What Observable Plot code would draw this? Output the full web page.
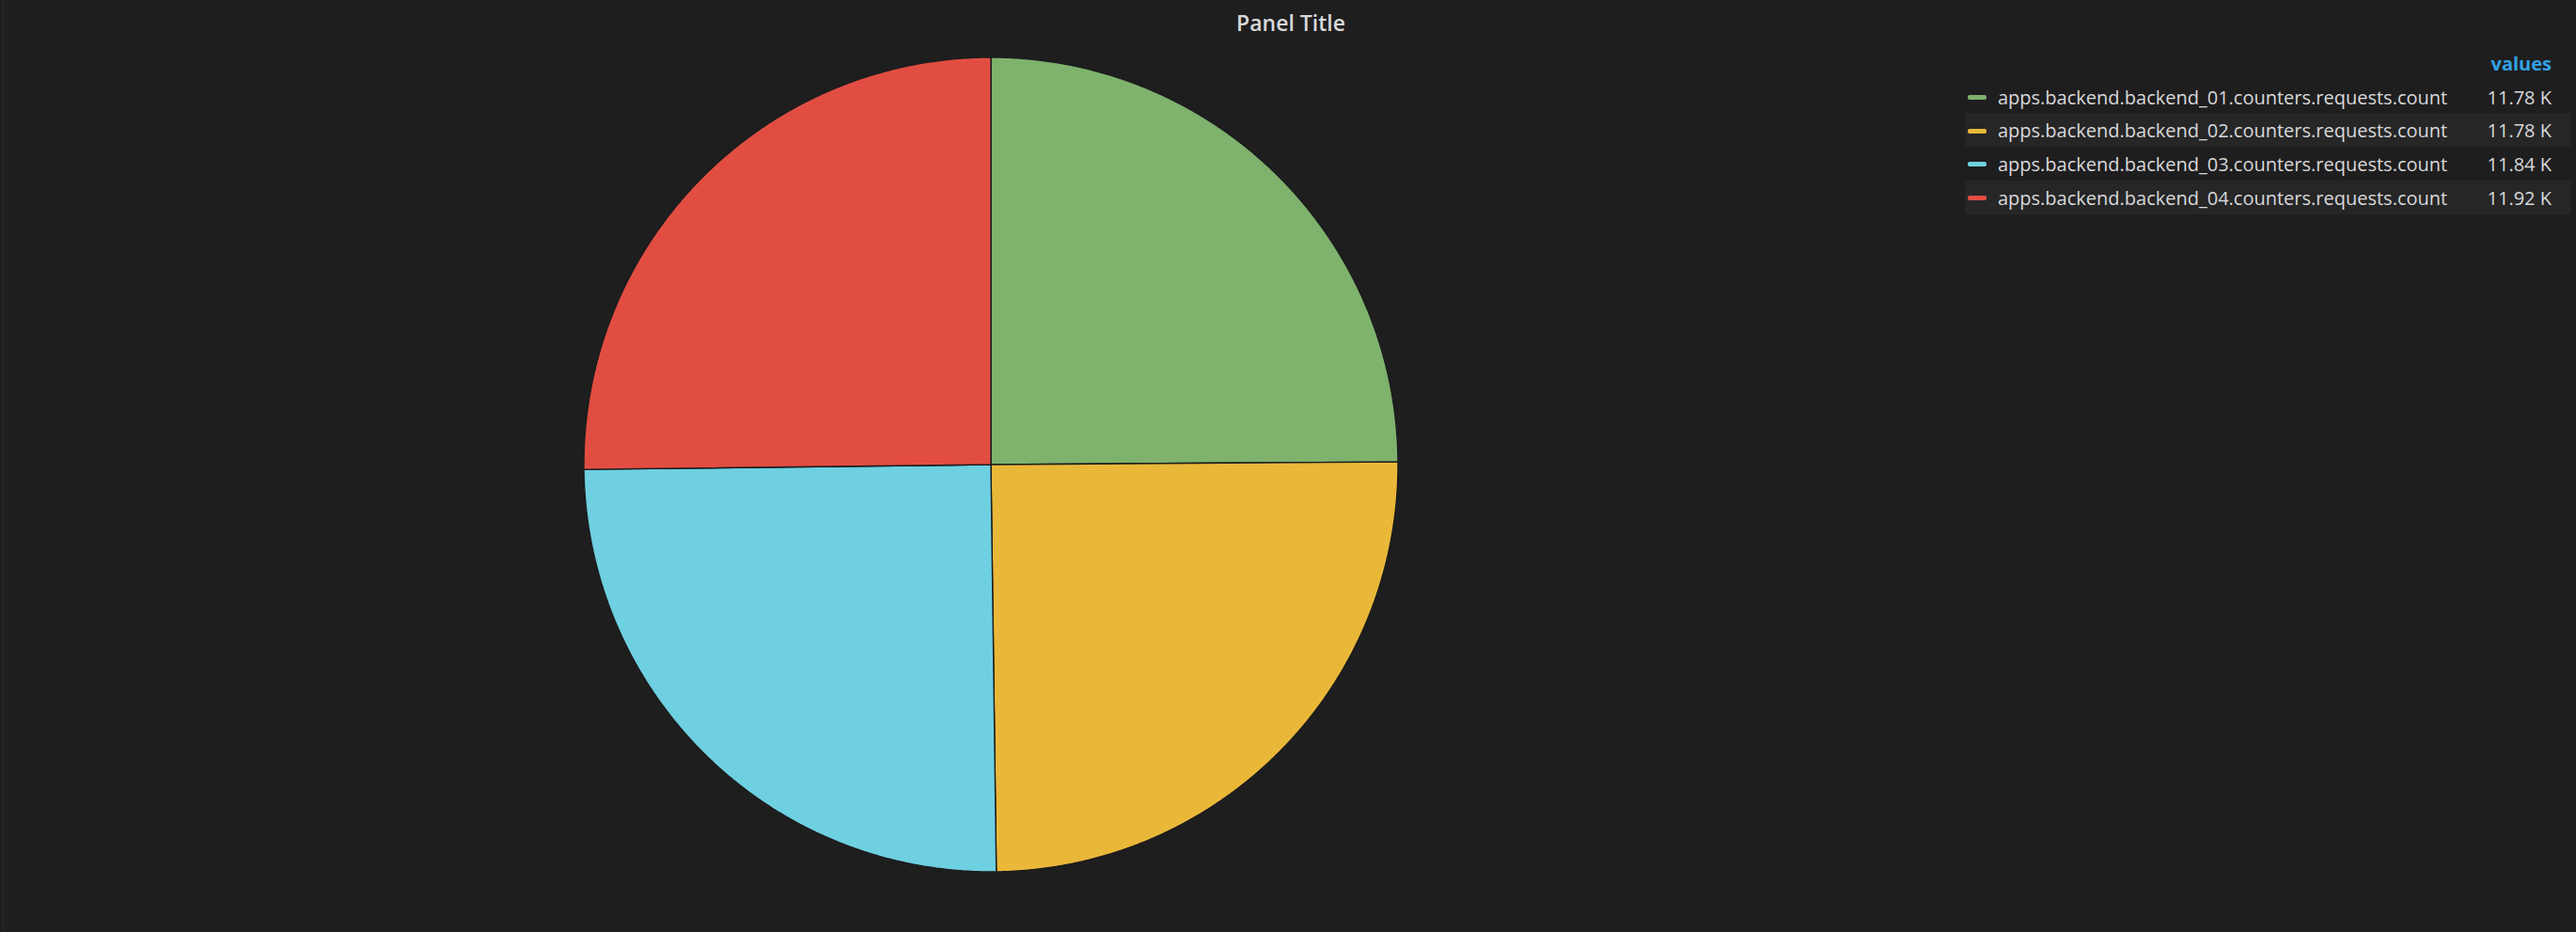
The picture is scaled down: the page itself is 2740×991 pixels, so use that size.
<!DOCTYPE html>
<html>
<head>
<meta charset="utf-8">
<script src="https://cdn.jsdelivr.net/npm/d3@7"></script>
<script src="https://cdn.jsdelivr.net/npm/@observablehq/plot@0.6"></script>
<style>
  html, body { margin: 0; padding: 0; background: #1f1e1f; }
  #wrap { position: relative; width: 2740px; height: 991px; overflow: hidden; font-family: "Open Sans", sans-serif; }
  #edge { position: absolute; left: 3px; top: 0; width: 1px; height: 991px; background: #2b2b2c; }
  #title { position: absolute; left: 1373px; top: 24px; transform: translate(-50%, -50%); color: #d8d9da; font-size: 23px; font-weight: 600; white-space: nowrap; }
  #legend { position: absolute; left: 0; top: 0; }
  .hdr { position: absolute; right: 26px; color: #33a2e5; font-weight: 700; font-size: 20px; white-space: nowrap; transform: translateY(-50%); }
  .band { position: absolute; left: 2090px; width: 645px; height: 36px; background: #262627; }
  .sw { position: absolute; left: 2093px; width: 20px; height: 5px; border-radius: 2px; }
  .lbl { position: absolute; left: 2125px; color: #d8d9da; font-size: 20px; white-space: nowrap; transform: translateY(-50%); }
  .val { position: absolute; right: 26px; color: #d8d9da; font-size: 20px; white-space: nowrap; transform: translateY(-50%); }
</style>
</head>
<body>
<div id="wrap">
  <div id="chart"></div>
  <div id="edge"></div>
  <div id="title">Panel Title</div>
  <div id="legend"></div>
</div>
<script>
const title = "Panel Title";
const seriesNames = [
  "apps.backend.backend_01.counters.requests.count",
  "apps.backend.backend_02.counters.requests.count",
  "apps.backend.backend_03.counters.requests.count",
  "apps.backend.backend_04.counters.requests.count"
];
const seriesValues = [11780, 11780, 11840, 11920];
const valueLabels = ["11.78 K", "11.78 K", "11.84 K", "11.92 K"];
const seriesColors = ["#7eb26d", "#eab839", "#6ed0e0", "#e24d42"];
const legendHeader = "values";

const data = seriesNames.map((name, i) => ({name, value: seriesValues[i]}));
const arcs = d3.pie().sort(null).value(d => d.value)(data);

// Build slice outlines (unit circle) from pie angles
const pts = [];
arcs.forEach(a => {
  const name = a.data.name;
  pts.push({name, x: 0, y: 0});
  const n = Math.max(2, Math.ceil((a.endAngle - a.startAngle) / (Math.PI / 720)));
  for (let k = 0; k <= n; k++) {
    const t = a.startAngle + (a.endAngle - a.startAngle) * k / n;
    pts.push({name, x: Math.sin(t), y: Math.cos(t)});
  }
  pts.push({name, x: 0, y: 0});
});

const W = 2740, H = 991;
const cx = 1053.5, cy = 493.5, r = 433;

const chart = Plot.plot({
  width: W,
  height: H,
  marginLeft: cx - r,
  marginRight: W - (cx + r),
  marginTop: cy - r,
  marginBottom: H - (cy + r),
  style: {background: "transparent"},
  x: {domain: [-1, 1], axis: null},
  y: {domain: [-1, 1], axis: null},
  color: {domain: seriesNames, range: seriesColors},
  marks: [
    Plot.line(pts, {x: "x", y: "y", z: "name", fill: "name", stroke: "#1c1c1d", strokeWidth: 1.4, strokeLinejoin: "round", curve: "linear"})
  ]
});
document.getElementById("chart").appendChild(chart);

// Legend
const leg = document.getElementById("legend");
leg.style.width = W + "px";
const hdr = document.createElement("div");
hdr.className = "hdr"; hdr.textContent = legendHeader;
hdr.style.top = "66.5px";
leg.appendChild(hdr);
seriesNames.forEach((name, i) => {
  const yc = 102.5 + i * 35.7;
  if (i % 2 === 1) {
    const b = document.createElement("div");
    b.className = "band"; b.style.top = (yc - 18) + "px";
    leg.appendChild(b);
  }
  const s = document.createElement("div");
  s.className = "sw"; s.style.top = (yc - 1.5) + "px"; s.style.background = seriesColors[i];
  leg.appendChild(s);
  const l = document.createElement("div");
  l.className = "lbl"; l.style.top = yc + "px"; l.textContent = name;
  leg.appendChild(l);
  const v = document.createElement("div");
  v.className = "val"; v.style.top = yc + "px"; v.textContent = valueLabels[i];
  leg.appendChild(v);
});
</script>
</body>
</html>
